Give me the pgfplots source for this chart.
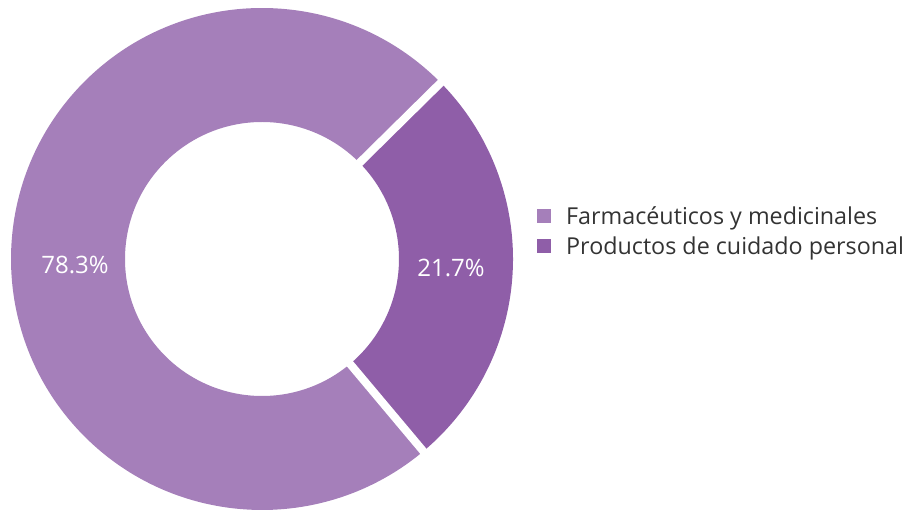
\documentclass[border=0pt]{standalone}
\usepackage{pgfplots}
\pgfplotsset{compat=1.18}
\usepackage{pgfplotstable}
\usepackage{fontspec}
\setmainfont{Open Sans}
\definecolor{farma}{RGB}{165,127,186}
\definecolor{cuidado}{RGB}{143,94,168}
\definecolor{legtext}{RGB}{51,51,51}

% share (label), start/end angle of the slice as drawn, label position
\pgfplotstableread{
share from to lx ly col
78.3 44.6 310.0 75 245 farma
21.7 -50.0 44.6 451 242 cuidado
}\slices

\begin{document}
\begin{tikzpicture}
\begin{axis}[
name=ax,
width=906pt, height=510pt,
scale only axis,
xmin=0, xmax=906, ymin=0, ymax=510,
hide axis,
clip=false,
legend style={at={(axis cs:537,279)}, anchor=west, draw=none, fill=none,
  font=\fontsize{23.3}{27}\selectfont, text=legtext,
  legend cell align=left, row sep=6.5pt, column sep=13pt, inner sep=0pt},
legend image code/.code={\fill[#1,draw=none] (0pt,-7pt) rectangle (14pt,7pt);},
]
\addlegendimage{fill=farma}
\addlegendentry{Farmacéuticos y medicinales}
\addlegendimage{fill=cuidado}
\addlegendentry{Productos de cuidado personal}

\pgfplotsforeachungrouped \i in {0,1}{
  \pgfplotstablegetelem{\i}{share}\of\slices \let\vs\pgfplotsretval
  \pgfplotstablegetelem{\i}{from}\of\slices \let\va\pgfplotsretval
  \pgfplotstablegetelem{\i}{to}\of\slices \let\vb\pgfplotsretval
  \pgfplotstablegetelem{\i}{lx}\of\slices \let\vx\pgfplotsretval
  \pgfplotstablegetelem{\i}{ly}\of\slices \let\vy\pgfplotsretval
  \pgfplotstablegetelem{\i}{col}\of\slices \let\vc\pgfplotsretval
  \edef\cmd{%
    \noexpand\fill[\vc] ([shift={(\va:251pt)}]axis cs:262,251)
      arc[start angle=\va, end angle=\vb, radius=251pt]
      -- ([shift={(\vb:137pt)}]axis cs:262,251)
      arc[start angle=\vb, end angle=\va, radius=137pt] -- cycle;
    \noexpand\node[white, font=\noexpand\fontsize{24}{28}\noexpand\selectfont]
      at (axis cs:\vx,\vy) {\vs\noexpand\%};
  }\cmd
}
\pgfplotsforeachungrouped \i in {0,1}{
  \pgfplotstablegetelem{\i}{from}\of\slices \let\va\pgfplotsretval
  \edef\cmd{%
    \noexpand\draw[white, line width=8pt]
      ([shift={(\va:125pt)}]axis cs:262,251) -- ([shift={(\va:262pt)}]axis cs:262,251);
  }\cmd
}
\end{axis}
\pgfresetboundingbox
\path (ax.south west) rectangle (ax.north east);
\end{tikzpicture}
\end{document}
